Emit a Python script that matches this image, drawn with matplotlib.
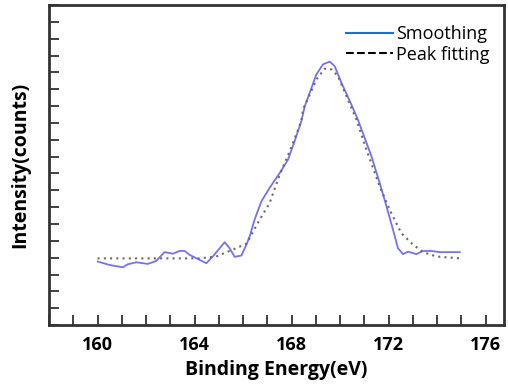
import matplotlib.pyplot as plt
from matplotlib.lines import Line2D
from matplotlib.ticker import MultipleLocator, NullFormatter

plt.rcParams['font.family'] = ['Open Sans', 'DejaVu Sans']

# smoothed spectrum
smooth_x = [160.01, 160.49, 161.04, 161.25, 161.60, 162.07, 162.42, 162.76, 163.11, 163.38,
            163.59, 163.79, 164.21, 164.48, 164.75, 165.24, 165.44, 165.65, 165.93, 166.13,
            166.27, 166.47, 166.75, 167.09, 167.51, 167.85, 168.12, 168.40, 168.54, 169.02,
            169.29, 169.57, 169.77, 170.05, 170.46, 170.73, 171.01, 171.29, 171.63, 171.91,
            172.18, 172.38, 172.59, 172.80, 173.14, 173.41, 173.76, 174.10, 174.93]
smooth_y = [3.77, 3.57, 3.43, 3.61, 3.73, 3.63, 3.81, 4.33, 4.24, 4.40,
            4.40, 4.17, 3.87, 3.67, 4.07, 4.92, 4.57, 4.05, 4.13, 4.76,
            5.26, 6.25, 7.34, 8.14, 9.03, 9.82, 10.91, 12.10, 12.99, 14.88,
            15.48, 15.64, 15.38, 14.39, 13.10, 12.20, 11.11, 10.02, 8.43, 7.04,
            5.65, 4.57, 4.21, 4.36, 4.21, 4.40, 4.40, 4.33, 4.33]

# peak fitting curve
fit_x = [160.0, 164.21, 164.89, 165.72, 166.13, 166.68, 167.09, 167.51, 167.92, 168.40,
         168.47, 169.02, 169.36, 169.64, 169.91, 170.26, 170.67, 171.08, 171.63, 172.04,
         172.52, 172.94, 173.41, 173.97, 174.86, 175.0]
fit_y = [3.96, 3.96, 4.07, 4.57, 4.82, 6.25, 7.24, 8.93, 10.32, 12.10,
         12.80, 14.58, 15.22, 15.18, 14.78, 13.59, 12.20, 10.42, 8.23, 6.85,
         5.46, 4.86, 4.33, 4.07, 3.97, 3.96]

fig = plt.figure(figsize=(5.08, 3.87), dpi=100)
ax = fig.add_axes([0.0965, 0.160, 0.8955, 0.827])

ax.plot(smooth_x, smooth_y, color='#7373f2', lw=1.3)
ax.plot(fit_x, fit_y, color='#6a6a6a', lw=1.5, linestyle=(0, (1, 2)))

ax.set_xlim(158, 176.75)
ax.set_ylim(0, 19)
ax.xaxis.set_major_locator(MultipleLocator(4))
ax.xaxis.set_minor_locator(MultipleLocator(1))
ax.yaxis.set_major_locator(MultipleLocator(1))
ax.yaxis.set_major_formatter(NullFormatter())
ax.tick_params(axis='both', which='both', direction='in', length=7, width=1.3, color='#333333')
ax.tick_params(axis='x', which='major', pad=8, labelsize=13)
ax.set_xticks([t for t in ax.get_xticks() if 160 <= t <= 176])
for lab in ax.get_xticklabels():
    lab.set_fontweight('bold')

for s in ax.spines.values():
    s.set_linewidth(2)
    s.set_color('#333333')

ax.set_xlabel('Binding Energy(eV)', fontsize=14, fontweight='bold', labelpad=4)
ax.set_ylabel('Intensity(counts)', fontsize=14, fontweight='bold', labelpad=10)

handles = [Line2D([], [], color='#1f6fd0', lw=1.5),
           Line2D([], [], color='black', lw=1.5, linestyle='--')]
ax.legend(handles, ['Smoothing', 'Peak fitting'], loc='upper right', frameon=False,
          fontsize=13, handlelength=2.6, handletextpad=0.2, labelspacing=0.15,
          bbox_to_anchor=(0.985, 0.96), borderaxespad=0)

fig.savefig('out.png', dpi=100)
